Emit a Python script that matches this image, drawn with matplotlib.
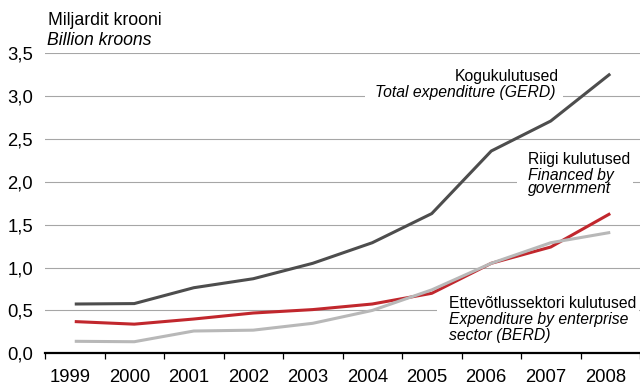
import matplotlib
matplotlib.use("Agg")
import matplotlib.pyplot as plt
import matplotlib.transforms as mtransforms
from matplotlib.patches import Rectangle

plt.rcParams['font.family'] = ['Liberation Sans', 'DejaVu Sans']

# data (billion kroons)
years = ['1999', '2000', '2001', '2002', '2003', '2004', '2005', '2006', '2007', '2008']
gerd = [0.575, 0.58, 0.765, 0.87, 1.05, 1.29, 1.63, 2.36, 2.71, 3.26]
government = [0.37, 0.34, 0.40, 0.47, 0.51, 0.575, 0.70, 1.05, 1.24, 1.63]
berd = [0.14, 0.135, 0.26, 0.27, 0.35, 0.50, 0.74, 1.05, 1.29, 1.41]
yticks = [0.0, 0.5, 1.0, 1.5, 2.0, 2.5, 3.0, 3.5]

fig = plt.figure(figsize=(6.4, 3.87), dpi=100)
ax = fig.add_axes([45 / 640, 1 - 353.3 / 387, 595 / 640, 300 / 387])

x = list(range(len(years)))
ax.plot(x, gerd, color='#4d4d4d', lw=2.2, zorder=3, solid_capstyle='butt')
ax.plot(x, government, color='#c1272d', lw=2.2, zorder=3, solid_capstyle='butt')
ax.plot(x, berd, color='#b8b8b8', lw=2.2, zorder=3, solid_capstyle='butt')

ax.set_xlim(-0.5, 9.42)
ax.set_ylim(0, 3.5)

# gridlines
ax.set_yticks(yticks)
ax.set_yticklabels([f"{v:.1f}".replace('.', ',') for v in yticks])
ax.grid(axis='y', color='#a6a6a6', lw=0.8)
ax.set_axisbelow(True)
ax.tick_params(axis='y', length=0, pad=8.6, labelsize=13.3)

# category ticks between years, labels under points
ax.set_xticks([i - 0.5 for i in range(len(years) + 1)])
ax.set_xticklabels([])
ax.set_xticks(x, minor=True)
ax.set_xticklabels(years, minor=True)
ax.tick_params(axis='x', which='major', direction='out', length=4.3, width=0.9, color='black')
ax.tick_params(axis='x', which='minor', length=0, pad=11.5, labelsize=13.3)
offset = mtransforms.ScaledTranslation(-5 / 100, 0, fig.dpi_scale_trans)
for lab in ax.get_xticklabels(minor=True):
    lab.set_transform(lab.get_transform() + offset)

for s in ['top', 'right', 'left']:
    ax.spines[s].set_visible(False)
ax.spines['bottom'].set_linewidth(1.6)
ax.spines['bottom'].set_zorder(4)

# white boxes behind the labels to break the gridlines
for (x0, y0, w, h) in [(4.88, 2.93, 3.32, 0.42), (7.43, 1.82, 1.95, 0.55), (6.08, 0.10, 3.4, 0.58)]:
    ax.add_patch(Rectangle((x0, y0), w, h, facecolor='white', edgecolor='none', zorder=1))

tsize = 11.3
ax.text(8.133, 3.181, 'Kogukulutused', ha='right', va='baseline', fontsize=tsize, zorder=5)
ax.text(8.083, 2.994, 'Total expenditure (GERD)', ha='right', va='baseline', fontsize=tsize, style='italic', zorder=5)
ax.text(7.617, 2.206, 'Riigi kulutused', ha='left', va='baseline', fontsize=tsize, zorder=5)
ax.text(7.617, 2.024, 'Financed by', ha='left', va='baseline', fontsize=tsize, style='italic', zorder=5)
ax.text(7.617, 1.866, 'government', ha='left', va='baseline', fontsize=tsize, style='italic', zorder=5)
ax.text(6.283, 0.526, 'Ettevõtlussektori kulutused', ha='left', va='baseline', fontsize=tsize, zorder=5)
ax.text(6.283, 0.339, 'Expenditure by enterprise', ha='left', va='baseline', fontsize=tsize, style='italic', zorder=5)
ax.text(6.283, 0.152, 'sector (BERD)', ha='left', va='baseline', fontsize=tsize, style='italic', zorder=5)

fig.text(48 / 640, 1 - 25 / 387, 'Miljardit krooni', fontsize=12.7, va='baseline')
fig.text(47 / 640, 1 - 45 / 387, 'Billion kroons', fontsize=12.7, style='italic', va='baseline')

fig.savefig('out.png', dpi=100)
